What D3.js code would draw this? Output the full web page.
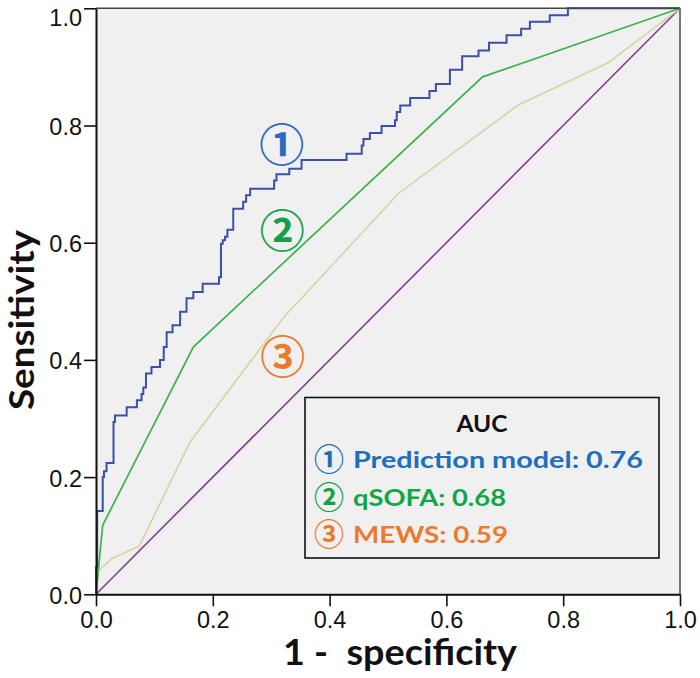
<!DOCTYPE html>
<html><head><meta charset="utf-8">
<script src="https://cdn.jsdelivr.net/npm/d3@7"></script>
<style>body{margin:0;background:#fff}svg text{white-space:pre}</style>
</head><body><svg id="c" width="700" height="678"></svg>
<script>
// ---- data ----
const xTicks = [0, 0.2, 0.4, 0.6, 0.8, 1.0];
const yTicks = [0, 0.2, 0.4, 0.6, 0.8, 1.0];
const predFpr = [0,0,0.002,0.0115,0.0137,0.018,0.030,0.0325,0.0525,0.070,0.078,0.081,0.0856,0.095,0.1096,0.116,0.121,0.131,0.144,0.155,0.1666,0.1827,0.2106,0.214,0.217,0.221,0.225,0.235,0.252,0.257,0.264,0.305,0.309,0.331,0.352,0.429,0.455,0.458,0.469,0.489,0.512,0.515,0.521,0.538,0.571,0.582,0.606,0.627,0.655,0.673,0.703,0.728,0.743,0.777,0.808,1];
const predTpr = [0,0.046,0.142,0.200,0.210,0.224,0.294,0.305,0.319,0.331,0.342,0.353,0.377,0.388,0.400,0.422,0.447,0.459,0.482,0.505,0.516,0.530,0.541,0.598,0.604,0.610,0.622,0.658,0.670,0.681,0.692,0.706,0.717,0.726,0.741,0.752,0.766,0.777,0.787,0.799,0.809,0.823,0.834,0.847,0.859,0.871,0.895,0.918,0.928,0.941,0.954,0.965,0.977,0.988,1.0,1.0];
const qsofaFpr = [0, 0.0115, 0.1666, 0.662, 1];
const qsofaTpr = [0, 0.118, 0.422, 0.883, 1];
const mewsFpr = [0, 0.002, 0.027, 0.074, 0.161, 0.320, 0.518, 0.723, 0.877, 1];
const mewsTpr = [0, 0.038, 0.061, 0.082, 0.260, 0.471, 0.684, 0.835, 0.907, 1];
const refFpr = [0, 1];
const refTpr = [0, 1];
const markers = ["①", "②", "③"];
const legendTitle = "AUC";
const legendLabels = ["Prediction model: 0.76", "qSOFA: 0.68", "MEWS: 0.59"];
const xTitle = "1 -  specificity";
const yTitle = "Sensitivity";

// ---- layout ----
const L = 96, T = 8.3, W = 584, H = 586;
const svg = d3.select("#c");
const x = d3.scaleLinear().domain([0, 1]).range([L, L + W]);
const y = d3.scaleLinear().domain([0, 1]).range([T + H, T]);

svg.append("rect").attr("x", L).attr("y", T).attr("width", W).attr("height", H).attr("fill", "#f0f0f0");

const zip = (a, b) => a.map((v, i) => [v, b[i]]);
const line = d3.line().x(d => x(d[0])).y(d => y(d[1]));
const stepLine = d3.line().x(d => x(d[0])).y(d => y(d[1])).curve(d3.curveStepAfter);

svg.append("path").datum(zip(refFpr, refTpr)).attr("d", line)
  .attr("fill", "none").attr("stroke", "#7f3f8c").attr("stroke-width", 1.6);
svg.append("path").datum(zip(mewsFpr, mewsTpr)).attr("d", line)
  .attr("fill", "none").attr("stroke", "#d6d3a4").attr("stroke-width", 1.6);
svg.append("path").datum(zip(qsofaFpr, qsofaTpr)).attr("d", line)
  .attr("fill", "none").attr("stroke", "#3db24c").attr("stroke-width", 1.7);
svg.append("path").datum(zip(predFpr, predTpr)).attr("d", stepLine)
  .attr("fill", "none").attr("stroke", "#3b50a8").attr("stroke-width", 2);

// frame (top/right)
svg.append("line").attr("x1", L).attr("x2", L + W).attr("y1", T).attr("y2", T).attr("stroke", "#444").attr("stroke-width", 1.5);
svg.append("line").attr("x1", L + W).attr("x2", L + W).attr("y1", T).attr("y2", T + H).attr("stroke", "#777").attr("stroke-width", 2);

// axes
const fmt = d3.format(".1f");
const gx = svg.append("g").attr("transform", `translate(0,${T + H})`)
  .call(d3.axisBottom(x).tickValues(xTicks).tickFormat(fmt).tickSize(12).tickSizeOuter(0));
const gy = svg.append("g").attr("transform", `translate(${L},0)`)
  .call(d3.axisLeft(y).tickValues(yTicks).tickFormat(fmt).tickSize(12).tickSizeOuter(0));
[gx, gy].forEach(g => {
  g.attr("font-size", null).attr("font-family", null);
  g.select(".domain").attr("stroke", "#111").attr("stroke-width", 2);
  g.selectAll(".tick line").attr("stroke", "#111").attr("stroke-width", 1.6);
  g.selectAll(".tick text").attr("fill", "#111")
    .style("font-family", "'Liberation Sans', Arial, sans-serif").style("font-size", "23.5px");
});
gx.selectAll(".tick text").attr("y", 17);
gy.selectAll(".tick text").attr("x", -14).attr("dy", (d) => d === 1 ? "0.72em" : "0.38em");

// axis titles
svg.append("text").text(xTitle).attr("x", 283).attr("y", 665)
  .attr("textLength", 234).attr("lengthAdjust", "spacingAndGlyphs")
  .style("font-family", "Lato, 'Open Sans', sans-serif").style("font-weight", 700).style("font-size", "36px").attr("fill", "#111");
svg.append("text").text(yTitle)
  .attr("transform", "translate(34,410) rotate(-90)")
  .attr("textLength", 180).attr("lengthAdjust", "spacingAndGlyphs")
  .style("font-family", "Lato, 'Open Sans', sans-serif").style("font-weight", 700).style("font-size", "34px").attr("fill", "#111");

// plot annotations (circled numbers), placed in data coords
const markerColors = ["#2f67c4", "#14a04a", "#ec7a2e"];
const markerPos = [[0.318, 0.765], [0.319, 0.618], [0.320, 0.403]];
markers.forEach((m, i) => {
  svg.append("text").text(m)
    .attr("x", x(markerPos[i][0])).attr("y", y(markerPos[i][1]) + 16)
    .attr("text-anchor", "middle")
    .style("font-family", "'Noto Sans CJK JP', sans-serif").style("font-weight", 700).style("font-size", "45px")
    .attr("fill", markerColors[i]);
});

// legend
const lg = svg.append("g");
lg.append("rect").attr("x", 305).attr("y", 397.5).attr("width", 354).attr("height", 160.5)
  .attr("fill", "#f0f0f0").attr("stroke", "#111").attr("stroke-width", 1.6);
lg.append("text").text(legendTitle).attr("x", 482).attr("y", 431.5).attr("text-anchor", "middle")
  .attr("textLength", 51).attr("lengthAdjust", "spacingAndGlyphs")
  .style("font-family", "Lato, sans-serif").style("font-weight", 700).style("font-size", "23.5px").attr("fill", "#111");
const textColors = ["#1b6fbe", "#12a546", "#ec7a2e"];
const rowLens = [290, 153, 155];
const rowBase = [468.3, 505.8, 543.3];
legendLabels.forEach((t, i) => {
  lg.append("text").text(markers[i]).attr("x", 329).attr("y", rowBase[i] + 2)
    .attr("text-anchor", "middle")
    .style("font-family", "'Noto Sans CJK JP', sans-serif").style("font-weight", 700).style("font-size", "30px")
    .attr("fill", textColors[i]);
  lg.append("text").text(t).attr("x", 353).attr("y", rowBase[i])
    .attr("textLength", rowLens[i]).attr("lengthAdjust", "spacingAndGlyphs")
    .style("font-family", "Lato, sans-serif").style("font-weight", 700).style("font-size", "23.5px")
    .attr("fill", textColors[i]);
});
</script></body></html>
